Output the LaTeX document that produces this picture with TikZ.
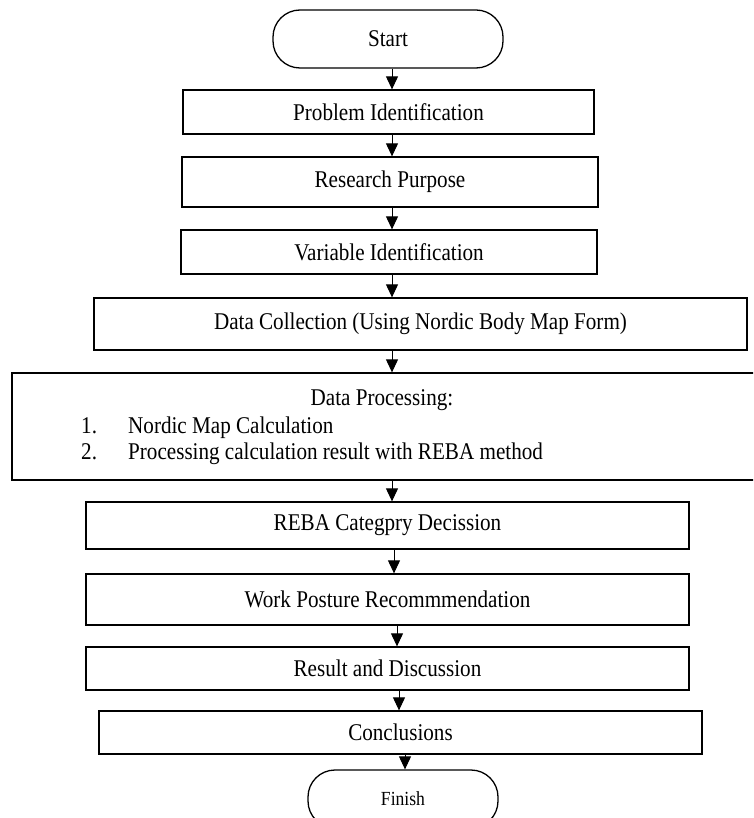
\documentclass[tikz,border=0pt]{standalone}
\usepackage{fontspec}
\setmainfont{Liberation Serif}[FakeStretch=0.88]
\usetikzlibrary{arrows.meta}
\tikzset{
  ar/.style={-{Triangle[length=13pt,width=12pt]},line width=1pt},
  box/.style={draw,line width=1.3pt,inner sep=0pt,font=\fontsize{24}{28}\selectfont},
  term/.style={box,rounded corners=27pt},
  txt/.style={inner sep=0pt,font=\fontsize{24}{28}\selectfont}
}

\begin{document}
\begin{tikzpicture}[x=1pt,y=-1pt]
\useasboundingbox (0,0) rectangle (753,818);
\clip (0,0) rectangle (753,818);
% steps, top to bottom
\node[term,minimum width=230pt,minimum height=58pt] (start) at (388,39) {Start};
\node[box,minimum width=411pt,minimum height=44pt] (probid) at (388.5,112) {Problem Identification};
\node[box,minimum width=416pt,minimum height=50pt] (purpose) at (390,182) {Research Purpose};
\node[box,minimum width=416pt,minimum height=44pt] (varid) at (389,252) {Variable Identification};
\node[box,minimum width=653pt,minimum height=52pt] (collect) at (420.5,324) {Data Collection (Using Nordic Body Map Form)};
\node[box,minimum width=745pt,minimum height=107pt] (process) at (384.5,426.5) {};
\node[txt,anchor=base] (proctitle) at (382,405) {Data Processing:};
\node[txt,anchor=base west] (num1) at (81,433) {1.};
\node[txt,anchor=base west] (item1) at (128,433) {Nordic Map Calculation};
\node[txt,anchor=base west] (num2) at (81,459) {2.};
\node[txt,anchor=base west] (item2) at (128,459) {Processing calculation result with REBA method};
\node[box,minimum width=603pt,minimum height=47pt] (reba) at (387.5,525.5) {REBA Categpry Decission};
\node[box,minimum width=603pt,minimum height=51pt] (posture) at (387.5,599.5) {Work Posture Recommmendation};
\node[box,minimum width=603pt,minimum height=43pt] (result) at (387.5,668.5) {Result and Discussion};
\node[box,minimum width=603pt,minimum height=43pt] (concl) at (400.5,732.5) {Conclusions};
\node[term,minimum width=190pt,minimum height=58pt,font=\fontsize{20}{24}\selectfont] (finish) at (403,799) {Finish};
% arrows
\foreach \a/\b/\x in {start/probid/392,probid/purpose/392,purpose/varid/392,varid/collect/392,
  collect/process/392,process/reba/392,reba/posture/394,posture/result/397,result/concl/399,concl/finish/405}{
  \coordinate (ax) at (\x,0);
  \draw[ar] (\a.south -| ax) -- (\b.north -| ax);
}
\end{tikzpicture}
\end{document}
